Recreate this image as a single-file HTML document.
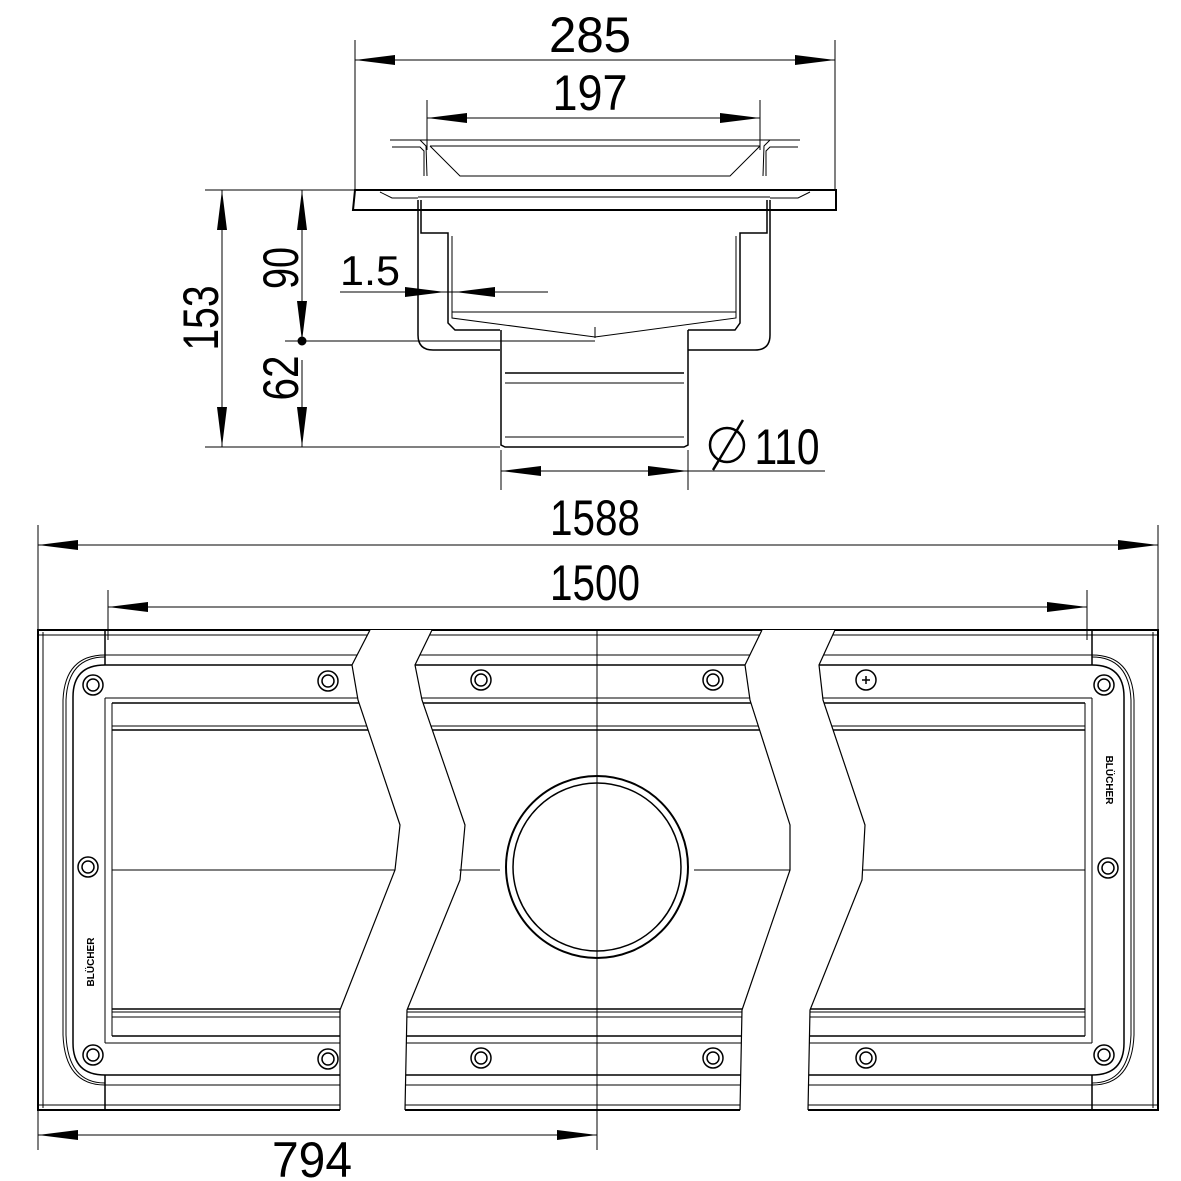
<!DOCTYPE html>
<html><head><meta charset="utf-8"><style>html,body{margin:0;padding:0;background:#fff}svg{display:block}</style></head>
<body>
<svg width="1181" height="1181" viewBox="0 0 1181 1181" xmlns="http://www.w3.org/2000/svg" font-family="'Liberation Sans', 'DejaVu Sans', sans-serif">
<defs>
<marker id="a" viewBox="0 0 40 10" refX="40" refY="5" markerWidth="40" markerHeight="10" markerUnits="userSpaceOnUse" orient="auto"><path d="M0,0 L40,5 L0,10 Z" fill="#000"/></marker>
</defs>
<g stroke="#000" fill="none" stroke-width="1">
<line x1="355" y1="40" x2="355" y2="190"/><line x1="835" y1="40" x2="835" y2="190"/>
<line x1="395" y1="60" x2="355" y2="60" marker-end="url(#a)"/><line x1="795" y1="60" x2="835" y2="60" marker-end="url(#a)"/>
<line x1="395" y1="60" x2="795" y2="60"/>
<line x1="427" y1="100" x2="427" y2="150"/><line x1="760" y1="100" x2="760" y2="150"/>
<line x1="427" y1="118" x2="760" y2="118"/>
<line x1="467" y1="118" x2="427" y2="118" marker-end="url(#a)"/><line x1="720" y1="118" x2="760" y2="118" marker-end="url(#a)"/>
<path d="M390,140 L420,140 L426,146 L427,176 M392,147 L420,147 L424,151 L424,176"/>
<path d="M800,140 L770,140 L764,146 L763,176 M798,147 L770,147 L766,151 L766,176"/>
<line x1="420" y1="140" x2="770" y2="140"/><line x1="430" y1="146" x2="760" y2="146"/>
<path d="M430,146 L460,176 L730,176 L760,146"/>
<path d="M355,190 L836,190 L836,210 L353,210 Z" stroke-width="2"/>
<path d="M380,192 L392,198 L418,198 M810,192 L798,198 L770,198"/>
<line x1="418" y1="197" x2="770" y2="197"/>
<path d="M418,200 L418,335 Q418,350 433,350 L500,350 M688,350 L755,350 Q770,350 770,335 L770,200" stroke-width="1.5"/>
<path d="M421,200 L421,233 L448,233 L448,323 L455,330 L500,330 M688,330 L735,330 L740,323 L740,233 L767,233 L767,200" stroke-width="1.5"/>
<path d="M452,236 L452,318 L595,337 L736,318 L736,236"/>
<line x1="452" y1="312" x2="736" y2="312"/>
<line x1="595" y1="327" x2="595" y2="338"/>
<path d="M501,330 L501,445 L505,447 L684,447 L688,445 L688,330" stroke-width="1.5"/>
<line x1="505" y1="373" x2="684" y2="373" stroke-width="1.5"/><line x1="505" y1="383" x2="684" y2="383"/>
<line x1="505" y1="437" x2="684" y2="437"/>
<line x1="205" y1="190" x2="420" y2="190"/><line x1="205" y1="447" x2="500" y2="447"/><line x1="285" y1="341" x2="595" y2="341"/>
<line x1="222" y1="240" x2="222" y2="190" marker-end="url(#a)"/><line x1="222" y1="400" x2="222" y2="447" marker-end="url(#a)"/><line x1="222" y1="240" x2="222" y2="400"/>
<line x1="302" y1="240" x2="302" y2="190" marker-end="url(#a)"/><line x1="302" y1="300" x2="302" y2="341" marker-end="url(#a)"/><line x1="302" y1="240" x2="302" y2="300"/>
<line x1="302" y1="400" x2="302" y2="447" marker-end="url(#a)"/><line x1="302" y1="360" x2="302" y2="400"/>
<circle cx="302" cy="341" r="4" fill="#000"/>
<line x1="340" y1="292" x2="548" y2="292"/>
<line x1="405" y1="292" x2="445" y2="292" marker-end="url(#a)"/><line x1="495" y1="292" x2="455" y2="292" marker-end="url(#a)"/>
<line x1="501" y1="450" x2="501" y2="490"/><line x1="688" y1="450" x2="688" y2="490"/>
<line x1="501" y1="471" x2="825" y2="471"/>
<line x1="541" y1="471" x2="501" y2="471" marker-end="url(#a)"/><line x1="648" y1="471" x2="688" y2="471" marker-end="url(#a)"/>
<circle cx="727" cy="445" r="17" stroke-width="2.5"/><line x1="713" y1="470" x2="743" y2="420" stroke-width="2.5"/>
<line x1="38" y1="525" x2="38" y2="1150"/><line x1="1158" y1="525" x2="1158" y2="630"/>
<line x1="38" y1="545" x2="1158" y2="545"/>
<line x1="78" y1="545" x2="38" y2="545" marker-end="url(#a)"/><line x1="1118" y1="545" x2="1158" y2="545" marker-end="url(#a)"/>
<line x1="108" y1="590" x2="108" y2="640"/><line x1="1087" y1="590" x2="1087" y2="640"/>
<line x1="108" y1="607" x2="1087" y2="607"/>
<line x1="148" y1="607" x2="108" y2="607" marker-end="url(#a)"/><line x1="1047" y1="607" x2="1087" y2="607" marker-end="url(#a)"/>
<line x1="38" y1="1135" x2="597" y2="1135"/>
<line x1="78" y1="1135" x2="38" y2="1135" marker-end="url(#a)"/><line x1="557" y1="1135" x2="597" y2="1135" marker-end="url(#a)"/>
<rect x="38" y="630" width="1120" height="480" stroke-width="2"/>
<line x1="43" y1="632" x2="43" y2="1108"/><line x1="1153" y1="632" x2="1153" y2="1108"/>
<line x1="38" y1="635" x2="1158" y2="635"/>
<line x1="38" y1="1105" x2="1158" y2="1105"/>
<path d="M105,630 V665 M1092,630 V665 M105,1075 V1110 M1092,1075 V1110" stroke-width="1.5"/>
<line x1="105" y1="655" x2="1092" y2="655"/><line x1="105" y1="665" x2="1092" y2="665" stroke-width="1.5"/>
<line x1="105" y1="1075" x2="1092" y2="1075" stroke-width="1.5"/><line x1="105" y1="1085" x2="1092" y2="1085"/>
<path d="M105,655 Q65,655 63,700 V1035 Q65,1085 105,1085" /><path d="M105,657 Q68,657 66,700 V1035 Q68,1083 105,1083"/>
<path d="M105,665 Q73,665 73,697 V1043 Q73,1075 105,1075" stroke-width="1.5"/>
<path d="M1092,655 Q1132,655 1134,700 V1035 Q1132,1085 1092,1085"/><path d="M1092,657 Q1129,657 1131,700 V1035 Q1129,1083 1092,1083"/>
<path d="M1092,665 Q1124,665 1124,697 V1043 Q1124,1075 1092,1075" stroke-width="1.5"/>
<path d="M105,698 V1043 M112,703 V1036 M1092,698 V1043 M1085,703 V1036"/>
<line x1="105" y1="698" x2="1092" y2="698"/><line x1="112" y1="703" x2="1085" y2="703" stroke-width="1.5"/>
<line x1="112" y1="726" x2="1085" y2="726"/><line x1="112" y1="730" x2="1085" y2="730" stroke-width="1.5"/>
<line x1="112" y1="1009" x2="1085" y2="1009" stroke-width="1.5"/><line x1="112" y1="1012" x2="1085" y2="1012"/>
<line x1="112" y1="1017" x2="1085" y2="1017"/><line x1="112" y1="1036" x2="1085" y2="1036" stroke-width="1.5"/>
<line x1="105" y1="1043" x2="1092" y2="1043"/>
<line x1="112" y1="870" x2="500" y2="870"/><line x1="694" y1="870" x2="1085" y2="870"/>
<line x1="597" y1="630" x2="597" y2="1150"/>
<circle cx="597" cy="867" r="91" stroke-width="2"/><circle cx="597" cy="867" r="84" stroke-width="1.5"/>
<g stroke-width="1.5">
<circle cx="93" cy="685" r="10"/><circle cx="93" cy="685" r="6"/>
<circle cx="328" cy="681" r="10"/><circle cx="328" cy="681" r="6"/>
<circle cx="481" cy="680" r="10"/><circle cx="481" cy="680" r="6"/>
<circle cx="713" cy="680" r="10"/><circle cx="713" cy="680" r="6"/>
<circle cx="866" cy="680" r="10"/><path d="M862,680 H870 M866,676 V684"/>
<circle cx="1104" cy="685" r="10"/><circle cx="1104" cy="685" r="6"/>
<circle cx="88" cy="867" r="10"/><circle cx="88" cy="867" r="6"/>
<circle cx="1108" cy="868" r="10"/><circle cx="1108" cy="868" r="6"/>
<circle cx="93" cy="1055" r="10"/><circle cx="93" cy="1055" r="6"/>
<circle cx="328" cy="1059" r="10"/><circle cx="328" cy="1059" r="6"/>
<circle cx="481" cy="1058" r="10"/><circle cx="481" cy="1058" r="6"/>
<circle cx="713" cy="1058" r="10"/><circle cx="713" cy="1058" r="6"/>
<circle cx="866" cy="1058" r="10"/><circle cx="866" cy="1058" r="6"/>
<circle cx="1104" cy="1055" r="10"/><circle cx="1104" cy="1055" r="6"/>
</g>
<path d="M370,630 L352,665 L358,700 L400,825 L395,870 L340,1010 L340,1112 L405,1112 L407,1010 L458,880 L465,825 L422,700 L415,665 L432,630 Z" fill="#fff" stroke="none"/>
<path d="M370,630 L352,665 L358,700 L400,825 L395,870 L340,1010 L340,1110 M432,630 L415,665 L422,700 L465,825 L460,880 L407,1010 L405,1110" stroke-width="1.2"/>
<path d="M762,630 L745,665 L750,700 L790,825 L790,870 L742,1010 L740,1112 L808,1112 L810,1010 L862,880 L865,825 L823,700 L819,665 L835,630 Z" fill="#fff" stroke="none"/>
<path d="M762,630 L745,665 L750,700 L790,825 L790,870 L742,1010 L740,1110 M835,630 L819,665 L823,700 L865,825 L862,880 L810,1010 L808,1110" stroke-width="1.2"/>
<line x1="597" y1="1110" x2="597" y2="1150"/>
</g>
<g fill="#000" font-size="50" text-anchor="middle" lengthAdjust="spacingAndGlyphs">
<text x="590" y="52" textLength="82" lengthAdjust="spacingAndGlyphs">285</text>
<text x="590" y="110" textLength="75" lengthAdjust="spacingAndGlyphs">197</text>
<text x="370" y="285" textLength="60" lengthAdjust="spacingAndGlyphs" font-size="42">1.5</text>
<text x="787" y="464" textLength="65" lengthAdjust="spacingAndGlyphs">110</text>
<text x="595" y="535" textLength="90" lengthAdjust="spacingAndGlyphs">1588</text>
<text x="595" y="600" textLength="90" lengthAdjust="spacingAndGlyphs">1500</text>
<text x="312" y="1177" textLength="80" lengthAdjust="spacingAndGlyphs">794</text>
<text transform="translate(218,318) rotate(-90)" textLength="65" lengthAdjust="spacingAndGlyphs">153</text>
<text transform="translate(298,268) rotate(-90)" textLength="42" lengthAdjust="spacingAndGlyphs">90</text>
<text transform="translate(298,378) rotate(-90)" textLength="45" lengthAdjust="spacingAndGlyphs">62</text>
<text transform="translate(1106,780) rotate(90)" font-size="10" font-weight="bold">BLÜCHER</text>
<text transform="translate(94,962) rotate(-90)" font-size="10" font-weight="bold">BLÜCHER</text>
</g>
</svg>
</body></html>
